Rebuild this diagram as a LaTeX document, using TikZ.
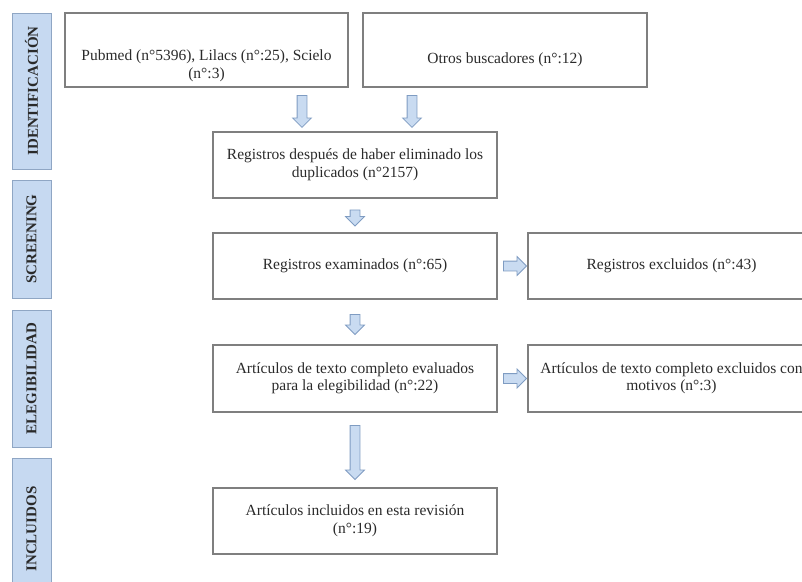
\documentclass[tikz,border=0pt]{standalone}
\usepackage{fontspec}
\setmainfont{Liberation Serif}
\usepackage{tikz}
\usetikzlibrary{shapes.arrows, positioning, calc}

\definecolor{sidefill}{HTML}{C6D9F1}
\definecolor{sideline}{HTML}{8FA6C4}
\definecolor{arrfill}{HTML}{C9DBF1}
\definecolor{arrline}{HTML}{7F9CC2}
\definecolor{boxline}{HTML}{7F7F7F}
\definecolor{txt}{HTML}{2A2A2A}

\begin{document}
\begin{tikzpicture}[x=1pt, y=-1pt,
            box/.style={draw=boxline, line width=1.1pt, rectangle, minimum width=284pt, minimum height=66pt, align=center, text=txt, inner sep=2pt, font=\fontsize{15.5}{17.5}\selectfont},
            phase/.style={draw=sideline, fill=sidefill, line width=1pt, rectangle, minimum height=39pt, inner sep=0pt, rotate=90, text=txt, font=\fontsize{15}{16}\selectfont\bfseries},
            blockarr/.style={single arrow, draw=arrline, fill=arrfill, line width=0.8pt, inner sep=4.5pt, minimum width=18pt, single arrow head extend=4.5pt, single arrow tip angle=90},
            downarr/.style={blockarr, rotate=-90}]

            \useasboundingbox (0,0) rectangle (802,581);

            % phases on the left
            \node[phase, minimum width=156pt] (fase1) at (31.5,91) {IDENTIFICACIÓN};
            \node[phase, minimum width=118pt] (fase2) at (31.5,239) {SCREENING};
            \node[phase, minimum width=137pt] (fase3) at (31.5,378.5) {ELEGIBILIDAD};
            \node[phase, minimum width=142pt] (fase4) at (31.5,529) {INCLUIDOS};

            % boxes (the two on top carry their text low)
            \node[box, minimum width=283pt, minimum height=74pt] (pubmed) at (206.5,50) {\raisebox{-19.5pt}[0pt][0pt]{\begin{tabular}{@{}c@{}}Pubmed (n°5396), Lilacs (n°:25), Scielo\\(n°:3)\end{tabular}}};
            \node[box, minimum height=74pt] (otros) at (505,50) {\raisebox{-13pt}[0pt][0pt]{Otros buscadores (n°:12)}};
            \node[box] (duplic) at (355,165) {Registros después de haber eliminado los\\duplicados (n°2157)};
            \node[box] (examin) at (355,266) {Registros examinados (n°:65)};
            \node[box, minimum width=287pt] (exclu) at (671.5,266) {Registros excluidos (n°:43)};
            \node[box, minimum height=67pt] (evalu) at (355,378.5) {Artículos de texto completo evaluados\\para la elegibilidad (n°:22)};
            \node[box, minimum width=287pt, minimum height=67pt] (motiv) at (671.5,378.5) {Artículos de texto completo excluidos con\\motivos (n°:3)};
            \node[box] (inclu) at (355,521) {Artículos incluidos en esta revisión\\(n°:19)};

            % arrows
            \node[downarr, minimum height=32pt] (a1) at ([xshift=-53pt, yshift=22.5pt]duplic.north) {};
            \node[downarr, minimum height=32pt] (a2) at ([xshift=57pt, yshift=22.5pt]duplic.north) {};
            \node[downarr, minimum height=16pt] (a3) at ($(duplic.south)!0.5!(examin.north)$) {};
            \node[downarr, minimum height=20pt] (a4) at ($(examin.south)!0.5!(evalu.north)$) {};
            \node[downarr, minimum height=54pt] (a5) at ($(evalu.south)!0.5!(inclu.north)$) {};
            \node[blockarr, minimum height=23pt] (r1) at ($(examin.east)!0.5!(exclu.west)$) {};
            \node[blockarr, minimum height=23pt] (r2) at ($(evalu.east)!0.5!(motiv.west)$) {};
        \end{tikzpicture}
\end{document}
